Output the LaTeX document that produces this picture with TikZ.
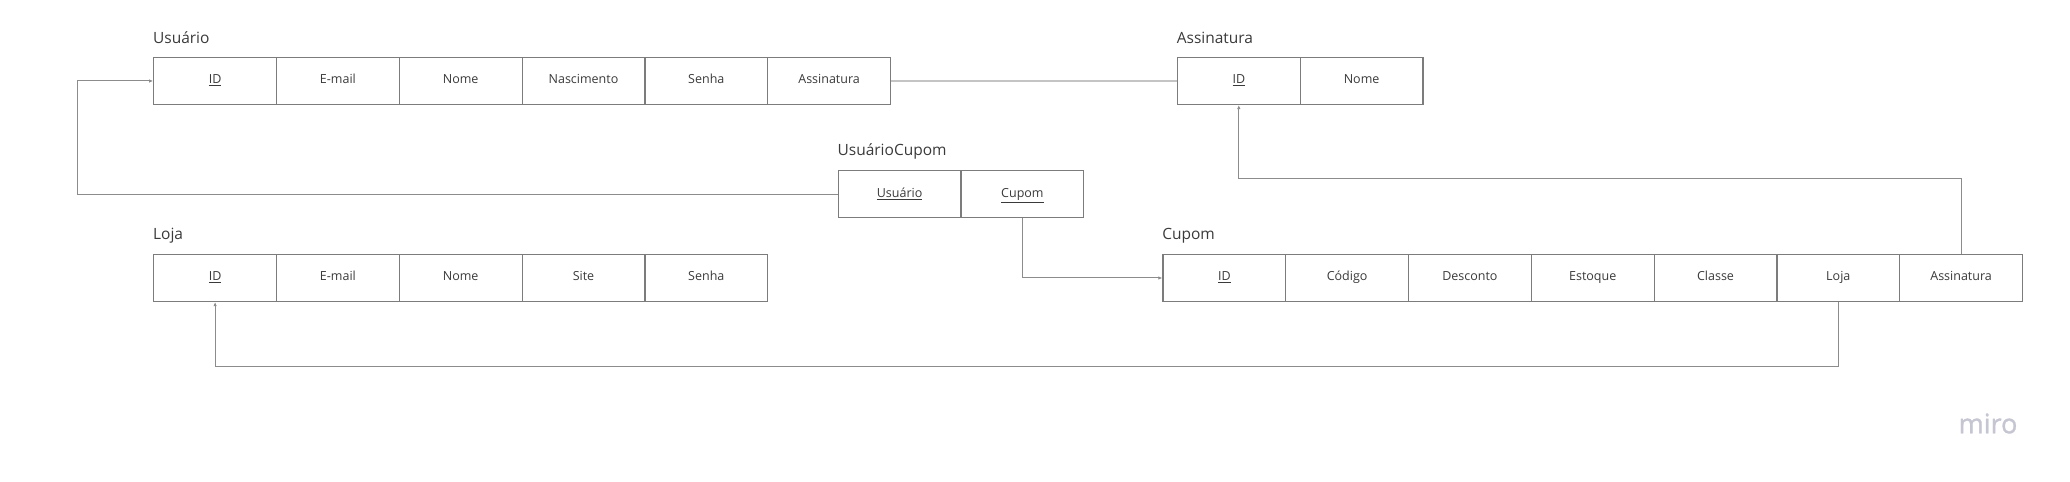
\documentclass[tikz,border=0pt]{standalone}
\usepackage{fontspec}
\setmainfont{Open Sans}
\newfontfamily\mirofont[FakeBold=1.2]{Open Sans}
\usetikzlibrary{matrix,arrows.meta,positioning,calc}

\definecolor{cellborder}{HTML}{7C7C7C}
\definecolor{celltext}{HTML}{3A3A3A}
\definecolor{labeltext}{HTML}{3A3A3A}
\definecolor{linegray}{HTML}{8C8C8C}
\definecolor{lightgray}{HTML}{C4C4C4}
\definecolor{mirogray}{HTML}{C6C6D3}

\newcommand{\cellfont}{\fontsize{12.5}{15}\selectfont}
\newcommand{\namefont}{\fontsize{15.5}{18}\selectfont}
\newcommand{\pk}[1]{\underline{#1}}

\tikzset{
  table/.style={matrix of nodes, inner sep=0pt, anchor=north west,
    row sep=-\pgflinewidth, column sep=-\pgflinewidth,
    nodes={draw=cellborder, minimum width=122.8pt, minimum height=47pt,
      text height=9pt, text depth=3pt, anchor=center,
      inner sep=0pt, text=celltext, font=\cellfont}},
  tablename/.style={anchor=base west, inner sep=0pt, text=labeltext, font=\namefont},
  fk/.style={draw=linegray, line width=1pt, -{Latex[length=4pt,width=3.5pt]}},
  link/.style={draw=lightgray, line width=1.4pt},
}

\begin{document}
\begin{tikzpicture}[x=1pt, y=1pt, line width=1.2pt]
  \useasboundingbox (0,0) rectangle (2070,482);

  % tables
  \matrix (usuario) [table] at (152.5,425.7)
  {
    \pk{ID} & E-mail & Nome & Nascimento & Senha & Assinatura \\
  };
  \matrix (assinatura) [table] at (1176.2,425.7)
  {
    \pk{ID} & Nome \\
  };
  \matrix (usuariocupom) [table] at (837,312.3)
  {
    \pk{Usuário} & \pk{Cupom} \\
  };
  \matrix (loja) [table] at (152.5,228.7)
  {
    \pk{ID} & E-mail & Nome & Site & Senha \\
  };
  \matrix (cupom) [table] at (1161.7,228.7)
  {
    \pk{ID} & Código & Desconto & Estoque & Classe & Loja & Assinatura \\
  };

  % table names
  \node[tablename] (usuarioname) at ([yshift=12.5pt]usuario.north west) {Usuário};
  \node[tablename] (assinaturaname) at ([yshift=12.5pt]assinatura.north west) {Assinatura};
  \node[tablename] (usuariocupomname) at ([yshift=14.5pt]usuariocupom.north west) {UsuárioCupom};
  \node[tablename] (lojaname) at ([yshift=13.5pt]loja.north west) {Loja};
  \node[tablename] (cupomname) at ([yshift=14pt]cupom.north west) {Cupom};

  % relations
  \draw[link] (usuario-1-6.east) -- (assinatura-1-1.west);
  \draw[fk] (usuariocupom-1-1.west) -- ++(-760.4,0) |- (usuario-1-1.west);
  \draw[fk] (usuariocupom-1-2.south) |- (cupom-1-1.west);
  \draw[fk] (cupom-1-7.north) -- ++(0,75) -| (assinatura-1-1.south);
  \draw[fk] (cupom-1-6.south) -- ++(0,-64.7) -| (loja-1-1.south);

  % logo
  \node[anchor=base, inner sep=0pt, text=mirogray, font=\mirofont\fontsize{27}{30}\selectfont] (miro) at (1988,48.7) {miro};
\end{tikzpicture}
\end{document}
